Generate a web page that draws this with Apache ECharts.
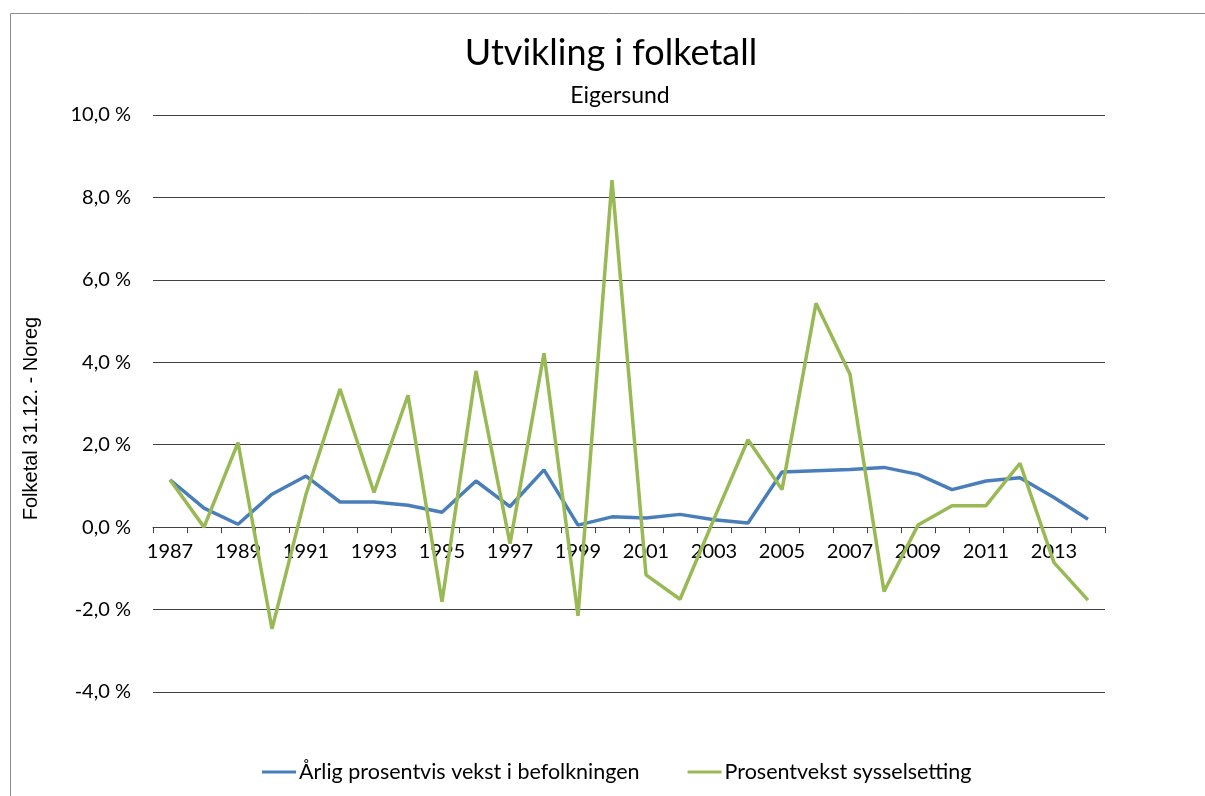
<!DOCTYPE html>
<html><head><meta charset="utf-8">
<script src="https://cdn.jsdelivr.net/npm/echarts@6/dist/echarts.min.js"></script>
<style>html,body{margin:0;padding:0;background:#fff}#c{width:1205px;height:796px}</style>
</head><body><div id="c"></div>
<script>
const years = ['1987','1988','1989','1990','1991','1992','1993','1994','1995','1996','1997','1998','1999','2000','2001','2002','2003','2004','2005','2006','2007','2008','2009','2010','2011','2012','2013','2014'];
const befolkning = [1.15,0.46,0.07,0.80,1.24,0.61,0.61,0.53,0.36,1.12,0.50,1.39,0.05,0.25,0.22,0.31,0.18,0.10,1.34,1.37,1.40,1.45,1.28,0.91,1.12,1.20,0.72,0.19];
const sysselsetting = [1.15,0.0,2.05,-2.47,0.8,3.35,0.84,3.2,-1.81,3.79,-0.40,4.22,-2.15,8.42,-1.16,-1.75,0.2,2.12,0.91,5.43,3.71,-1.56,0.05,0.52,0.52,1.55,-0.86,-1.77];
const seriesNames = ['Årlig prosentvis vekst i befolkningen','Prosentvekst sysselsetting'];
const yTicks = {min:-4, max:10, interval:2};

const font = 'Lato, "Open Sans", sans-serif';
const chart = echarts.init(document.getElementById('c'));
chart.setOption({
  animation:false,
  backgroundColor:'#fff',
  graphic:[{type:'rect',shape:{x:10.5,y:13.5,width:1220,height:820},style:{fill:'none',stroke:'#8c8c8c',lineWidth:1},z:-1}],
  title:[
    {text:'Utvikling i folketall',left:606,textAlign:'center',top:30,textStyle:{fontFamily:font,fontSize:36,fontWeight:'normal',color:'#000'}},
    {text:'Eigersund',left:615,textAlign:'center',top:79,textStyle:{fontFamily:font,fontSize:23,fontWeight:'normal',color:'#000'}}
  ],
  grid:{left:153,right:100,top:115,bottom:104},
  legend:{bottom:8,left:257,itemGap:48,itemWidth:34,itemHeight:3,icon:'rect',
    textStyle:{fontFamily:font,fontSize:21.5,color:'#000',padding:[0,0,0,-2]},
    data:seriesNames},
  xAxis:{type:'category',data:years,boundaryGap:true,
    axisLine:{onZero:true,lineStyle:{color:'#404040',width:1}},
    axisTick:{show:true,interval:0,length:6,lineStyle:{color:'#404040'}},
    axisLabel:{interval:1,margin:-150,fontFamily:font,fontSize:20,color:'#000'}},
  yAxis:{type:'value',min:yTicks.min,max:yTicks.max,interval:yTicks.interval,
    name:'Folketal 31.12. - Noreg',nameLocation:'middle',nameGap:112,nameRotate:90,
    nameTextStyle:{fontFamily:'"Liberation Sans", Arial, sans-serif',fontSize:20,color:'#000',padding:[0,30,0,0]},
    axisLine:{show:false},axisTick:{show:false},
    splitLine:{lineStyle:{color:'#404040',width:1}},
    axisLabel:{margin:22,fontFamily:font,fontSize:20,color:'#000',
      formatter:v=>v.toFixed(1).replace('.',',')+' %'}},
  series:[
    {name:seriesNames[0],type:'line',data:befolkning,showSymbol:false,symbol:'none',
      lineStyle:{color:'#4a7ebb',width:3.5},itemStyle:{color:'#4a7ebb'},z:3},
    {name:seriesNames[1],type:'line',data:sysselsetting,showSymbol:false,symbol:'none',
      lineStyle:{color:'#98b954',width:3.5},itemStyle:{color:'#98b954'},z:4}
  ]
});
</script></body></html>
